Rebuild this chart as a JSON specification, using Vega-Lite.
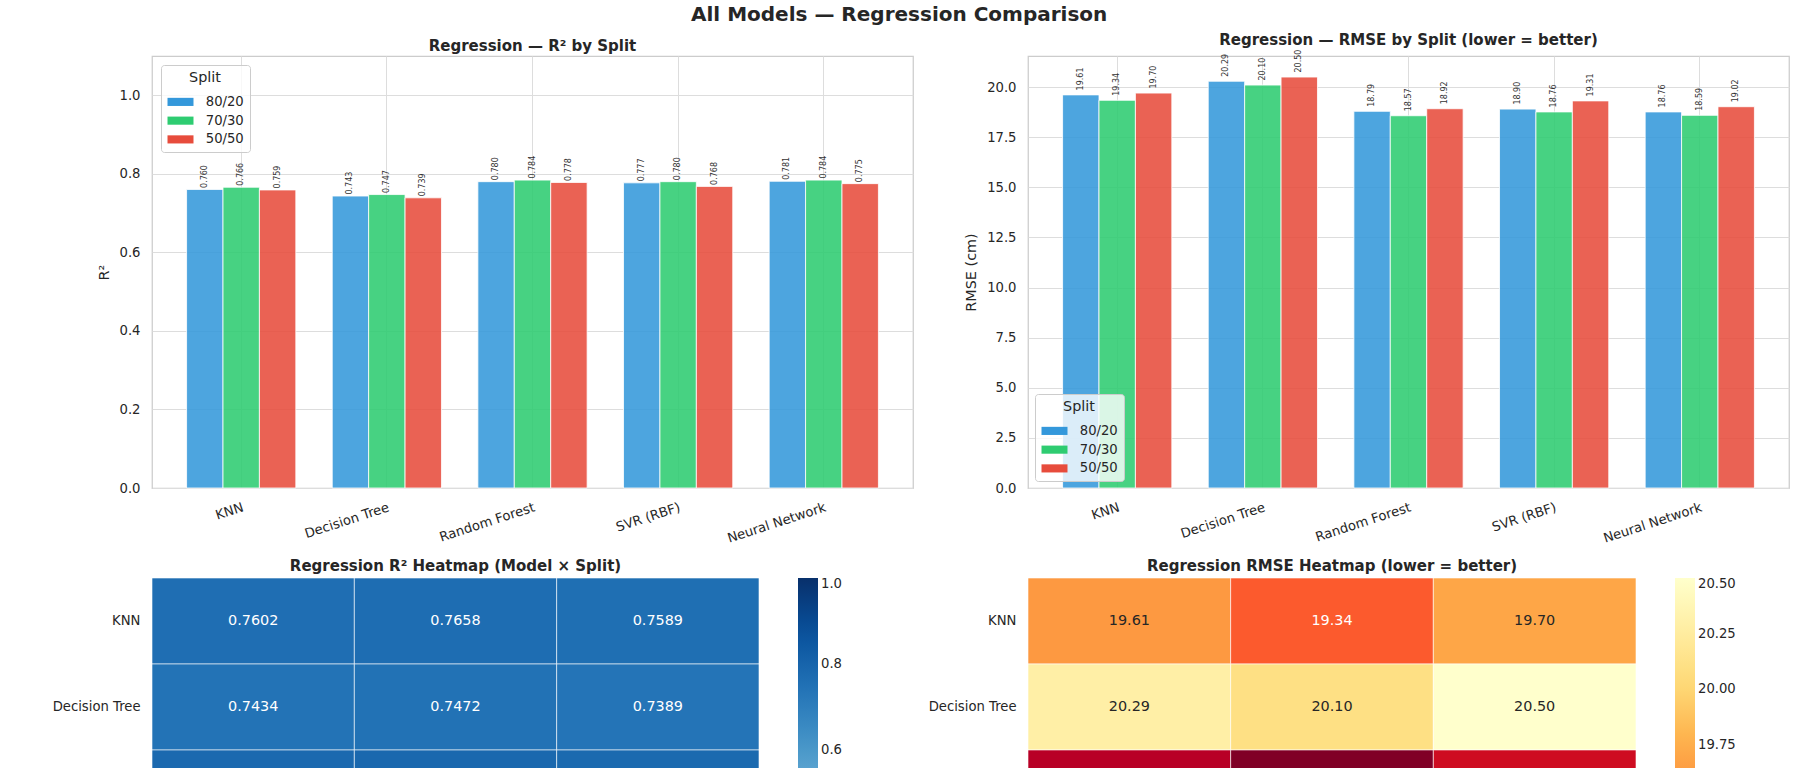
{
  "$schema": "https://vega.github.io/schema/vega-lite/v6.json",
  "padding": {"left": 37, "top": 5, "right": 0, "bottom": 0},
  "title": {"text": "All Models — Regression Comparison", "fontSize": 20, "fontWeight": "bold", "anchor": "start", "frame": "group", "dx": 539, "offset": -13, "baseline": "bottom", "color": "#262626"},
  "datasets": {
    "reg": [
      {"Model": "KNN", "Split": "80/20", "R2": 0.7602, "RMSE": 19.61},
      {"Model": "KNN", "Split": "70/30", "R2": 0.7658, "RMSE": 19.34},
      {"Model": "KNN", "Split": "50/50", "R2": 0.7589, "RMSE": 19.70},
      {"Model": "Decision Tree", "Split": "80/20", "R2": 0.7434, "RMSE": 20.29},
      {"Model": "Decision Tree", "Split": "70/30", "R2": 0.7472, "RMSE": 20.10},
      {"Model": "Decision Tree", "Split": "50/50", "R2": 0.7389, "RMSE": 20.50},
      {"Model": "Random Forest", "Split": "80/20", "R2": 0.7800, "RMSE": 18.79},
      {"Model": "Random Forest", "Split": "70/30", "R2": 0.7840, "RMSE": 18.57},
      {"Model": "Random Forest", "Split": "50/50", "R2": 0.7780, "RMSE": 18.92},
      {"Model": "SVR (RBF)", "Split": "80/20", "R2": 0.7770, "RMSE": 18.90},
      {"Model": "SVR (RBF)", "Split": "70/30", "R2": 0.7800, "RMSE": 18.76},
      {"Model": "SVR (RBF)", "Split": "50/50", "R2": 0.7680, "RMSE": 19.31},
      {"Model": "Neural Network", "Split": "80/20", "R2": 0.7810, "RMSE": 18.76},
      {"Model": "Neural Network", "Split": "70/30", "R2": 0.7840, "RMSE": 18.59},
      {"Model": "Neural Network", "Split": "50/50", "R2": 0.7750, "RMSE": 19.02}
    ]
  },
  "columns": 2,
  "bounds": "flush",
  "spacing": {"row": 90, "column": 115},
  "resolve": {"scale": {"color": "independent"}, "legend": {"color": "independent"}},
  "concat": [
    {
      "data": {"name": "reg"},
      "width": 761,
      "height": 432,
      "title": {"text": "Regression — R² by Split", "frame": "group", "offset": -13, "baseline": "bottom"},
      "view": {"stroke": "#cccccc", "strokeWidth": 1.25},
      "encoding": {
        "x": {"field": "Model", "type": "nominal", "sort": ["KNN", "Decision Tree", "Random Forest", "SVR (RBF)", "Neural Network"],
              "scale": {"paddingInner": 0.25, "paddingOuter": 0.2375},
              "axis": {"title": null, "labelAngle": -18, "labelAlign": "right", "labelBaseline": "top", "labelPadding": 13, "grid": true, "bandPosition": 0.5}},
        "xOffset": {"field": "Split", "type": "nominal", "sort": ["80/20", "70/30", "50/50"], "scale": {"paddingInner": 0, "paddingOuter": 0}},
        "y": {"field": "R2", "type": "quantitative", "scale": {"domain": [0, 1.1], "nice": false},
              "axis": {"title": "R²", "values": [0, 0.2, 0.4, 0.6, 0.8, 1.0], "format": ".1f", "labelPadding": 12, "titlePadding": 8}}
      },
      "layer": [
        {
          "mark": {"type": "bar", "stroke": "white", "strokeWidth": 0.8, "fillOpacity": 0.88},
          "encoding": {
            "color": {"field": "Split", "type": "nominal", "sort": ["80/20", "70/30", "50/50"],
                      "scale": {"domain": ["80/20", "70/30", "50/50"], "range": ["#3498db", "#2ecc71", "#e74c3c"]},
                      "legend": {"title": "Split", "orient": "top-left", "offset": 9, "padding": 6, "fillColor": "rgba(255,255,255,0.8)", "strokeColor": "#cccccc", "cornerRadius": 3}}
          }
        },
        {
          "mark": {"type": "text", "angle": 270, "align": "left", "baseline": "middle", "dx": 1.5, "fontSize": 8, "color": "#333333"},
          "encoding": {"text": {"field": "R2", "format": ".3f"}}
        }
      ]
    },
    {
      "data": {"name": "reg"},
      "width": 761,
      "height": 432,
      "title": {"text": "Regression — RMSE by Split (lower = better)", "frame": "group", "offset": -13, "baseline": "bottom"},
      "view": {"stroke": "#cccccc", "strokeWidth": 1.25},
      "encoding": {
        "x": {"field": "Model", "type": "nominal", "sort": ["KNN", "Decision Tree", "Random Forest", "SVR (RBF)", "Neural Network"],
              "scale": {"paddingInner": 0.25, "paddingOuter": 0.2375},
              "axis": {"title": null, "labelAngle": -18, "labelAlign": "right", "labelBaseline": "top", "labelPadding": 13, "grid": true, "bandPosition": 0.5}},
        "xOffset": {"field": "Split", "type": "nominal", "sort": ["80/20", "70/30", "50/50"], "scale": {"paddingInner": 0, "paddingOuter": 0}},
        "y": {"field": "RMSE", "type": "quantitative", "scale": {"domain": [0, 21.55], "nice": false},
              "axis": {"title": "RMSE (cm)", "values": [0, 2.5, 5, 7.5, 10, 12.5, 15, 17.5, 20], "format": ".1f", "labelPadding": 12, "titlePadding": 8}}
      },
      "layer": [
        {
          "mark": {"type": "bar", "stroke": "white", "strokeWidth": 0.8, "fillOpacity": 0.88},
          "encoding": {
            "color": {"field": "Split", "type": "nominal", "sort": ["80/20", "70/30", "50/50"],
                      "scale": {"domain": ["80/20", "70/30", "50/50"], "range": ["#3498db", "#2ecc71", "#e74c3c"]},
                      "legend": {"title": "Split", "orient": "bottom-left", "offset": 7, "padding": 6, "fillColor": "rgba(255,255,255,0.8)", "strokeColor": "#cccccc", "cornerRadius": 3}}
          }
        },
        {
          "mark": {"type": "text", "angle": 270, "align": "left", "baseline": "middle", "dx": 4.5, "fontSize": 8, "color": "#333333"},
          "encoding": {"text": {"field": "RMSE", "format": ".2f"}}
        }
      ]
    },
    {
      "data": {"name": "reg"},
      "width": 607,
      "height": 430,
      "title": {"text": "Regression R² Heatmap (Model × Split)", "frame": "group", "offset": -11, "baseline": "bottom"},
      "view": {"stroke": null},
      "encoding": {
        "x": {"field": "Split", "type": "nominal", "sort": ["80/20", "70/30", "50/50"], "scale": {"paddingInner": 0, "paddingOuter": 0},
              "axis": {"title": null, "labelAngle": 0, "labelPadding": 12, "grid": false}},
        "y": {"field": "Model", "type": "nominal", "sort": ["KNN", "Decision Tree", "Random Forest", "SVR (RBF)", "Neural Network"], "scale": {"paddingInner": 0, "paddingOuter": 0},
              "axis": {"title": null, "labelPadding": 12, "grid": false}}
      },
      "layer": [
        {
          "mark": {"type": "rect", "stroke": "white", "strokeWidth": 0.6},
          "encoding": {
            "color": {"field": "R2", "type": "quantitative",
                      "scale": {"domain": [0, 0.125, 0.25, 0.375, 0.5, 0.625, 0.75, 0.875, 1.0],
                                "range": ["#f7fbff", "#deebf7", "#c6dbef", "#9ecae1", "#6baed6", "#4292c6", "#2171b5", "#08519c", "#08306b"],
                                "interpolate": "rgb"},
                      "legend": {"title": null, "orient": "right", "offset": 39, "padding": 0, "direction": "vertical", "gradientLength": 430, "gradientThickness": 20,
                                 "gradientStrokeWidth": 0, "values": [0, 0.2, 0.4, 0.6, 0.8, 1.0], "format": ".1f", "labelOffset": 3, "labelOverlap": false, "labelBaseline": "middle"}}
          }
        },
        {
          "mark": {"type": "text", "fontSize": 14.4, "color": "white"},
          "encoding": {"text": {"field": "R2", "format": ".4f"}}
        }
      ]
    },
    {
      "data": {"name": "reg"},
      "width": 608,
      "height": 430,
      "title": {"text": "Regression RMSE Heatmap (lower = better)", "frame": "group", "offset": -11, "baseline": "bottom"},
      "view": {"stroke": null},
      "encoding": {
        "x": {"field": "Split", "type": "nominal", "sort": ["80/20", "70/30", "50/50"], "scale": {"paddingInner": 0, "paddingOuter": 0},
              "axis": {"title": null, "labelAngle": 0, "labelPadding": 12, "grid": false}},
        "y": {"field": "Model", "type": "nominal", "sort": ["KNN", "Decision Tree", "Random Forest", "SVR (RBF)", "Neural Network"], "scale": {"paddingInner": 0, "paddingOuter": 0},
              "axis": {"title": null, "labelPadding": 12, "grid": false}}
      },
      "layer": [
        {
          "mark": {"type": "rect", "stroke": "white", "strokeWidth": 0.6},
          "encoding": {
            "color": {"field": "RMSE", "type": "quantitative",
                      "scale": {"domain": [18.57, 18.81125, 19.0525, 19.29375, 19.535, 19.77625, 20.0175, 20.25875, 20.5],
                                "range": ["#800026", "#bd0026", "#e31a1c", "#fc4e2a", "#fd8d3c", "#feb24c", "#fed976", "#ffeda0", "#ffffcc"],
                                "interpolate": "rgb"},
                      "legend": {"title": null, "orient": "right", "offset": 39, "padding": 0, "direction": "vertical", "gradientLength": 430, "gradientThickness": 20,
                                 "gradientStrokeWidth": 0, "values": [18.75, 19.0, 19.25, 19.5, 19.75, 20.0, 20.25, 20.5], "format": ".2f", "labelOffset": 3, "labelOverlap": false, "labelBaseline": "middle"}}
          }
        },
        {
          "mark": {"type": "text", "fontSize": 14.4},
          "encoding": {
            "text": {"field": "RMSE", "format": ".2f"},
            "color": {"condition": {"test": "datum.RMSE < 19.45", "value": "white"}, "value": "#262626"}
          }
        }
      ]
    }
  ],
  "config": {
    "font": "DejaVu Sans",
    "background": "white",
    "title": {"fontSize": 15, "fontWeight": "bold", "color": "#262626"},
    "axis": {"labelColor": "#262626", "titleColor": "#262626", "labelFontSize": 13.2, "titleFontSize": 14.4, "titleFontWeight": "normal",
             "gridColor": "#dddddd", "gridWidth": 1, "ticks": false, "domain": false},
    "legend": {"titleFontSize": 14.4, "titleFontWeight": "normal", "titleColor": "#262626", "labelColor": "#262626", "labelFontSize": 13.2,
               "titleAnchor": "middle", "titlePadding": 8, "rowPadding": 3.75,
               "symbolType": "M-1.6,-0.5H1.6V0.5H-1.6Z", "symbolSize": 264, "symbolStrokeWidth": 0, "symbolOffset": 5, "labelOffset": 16.75}
  }
}
